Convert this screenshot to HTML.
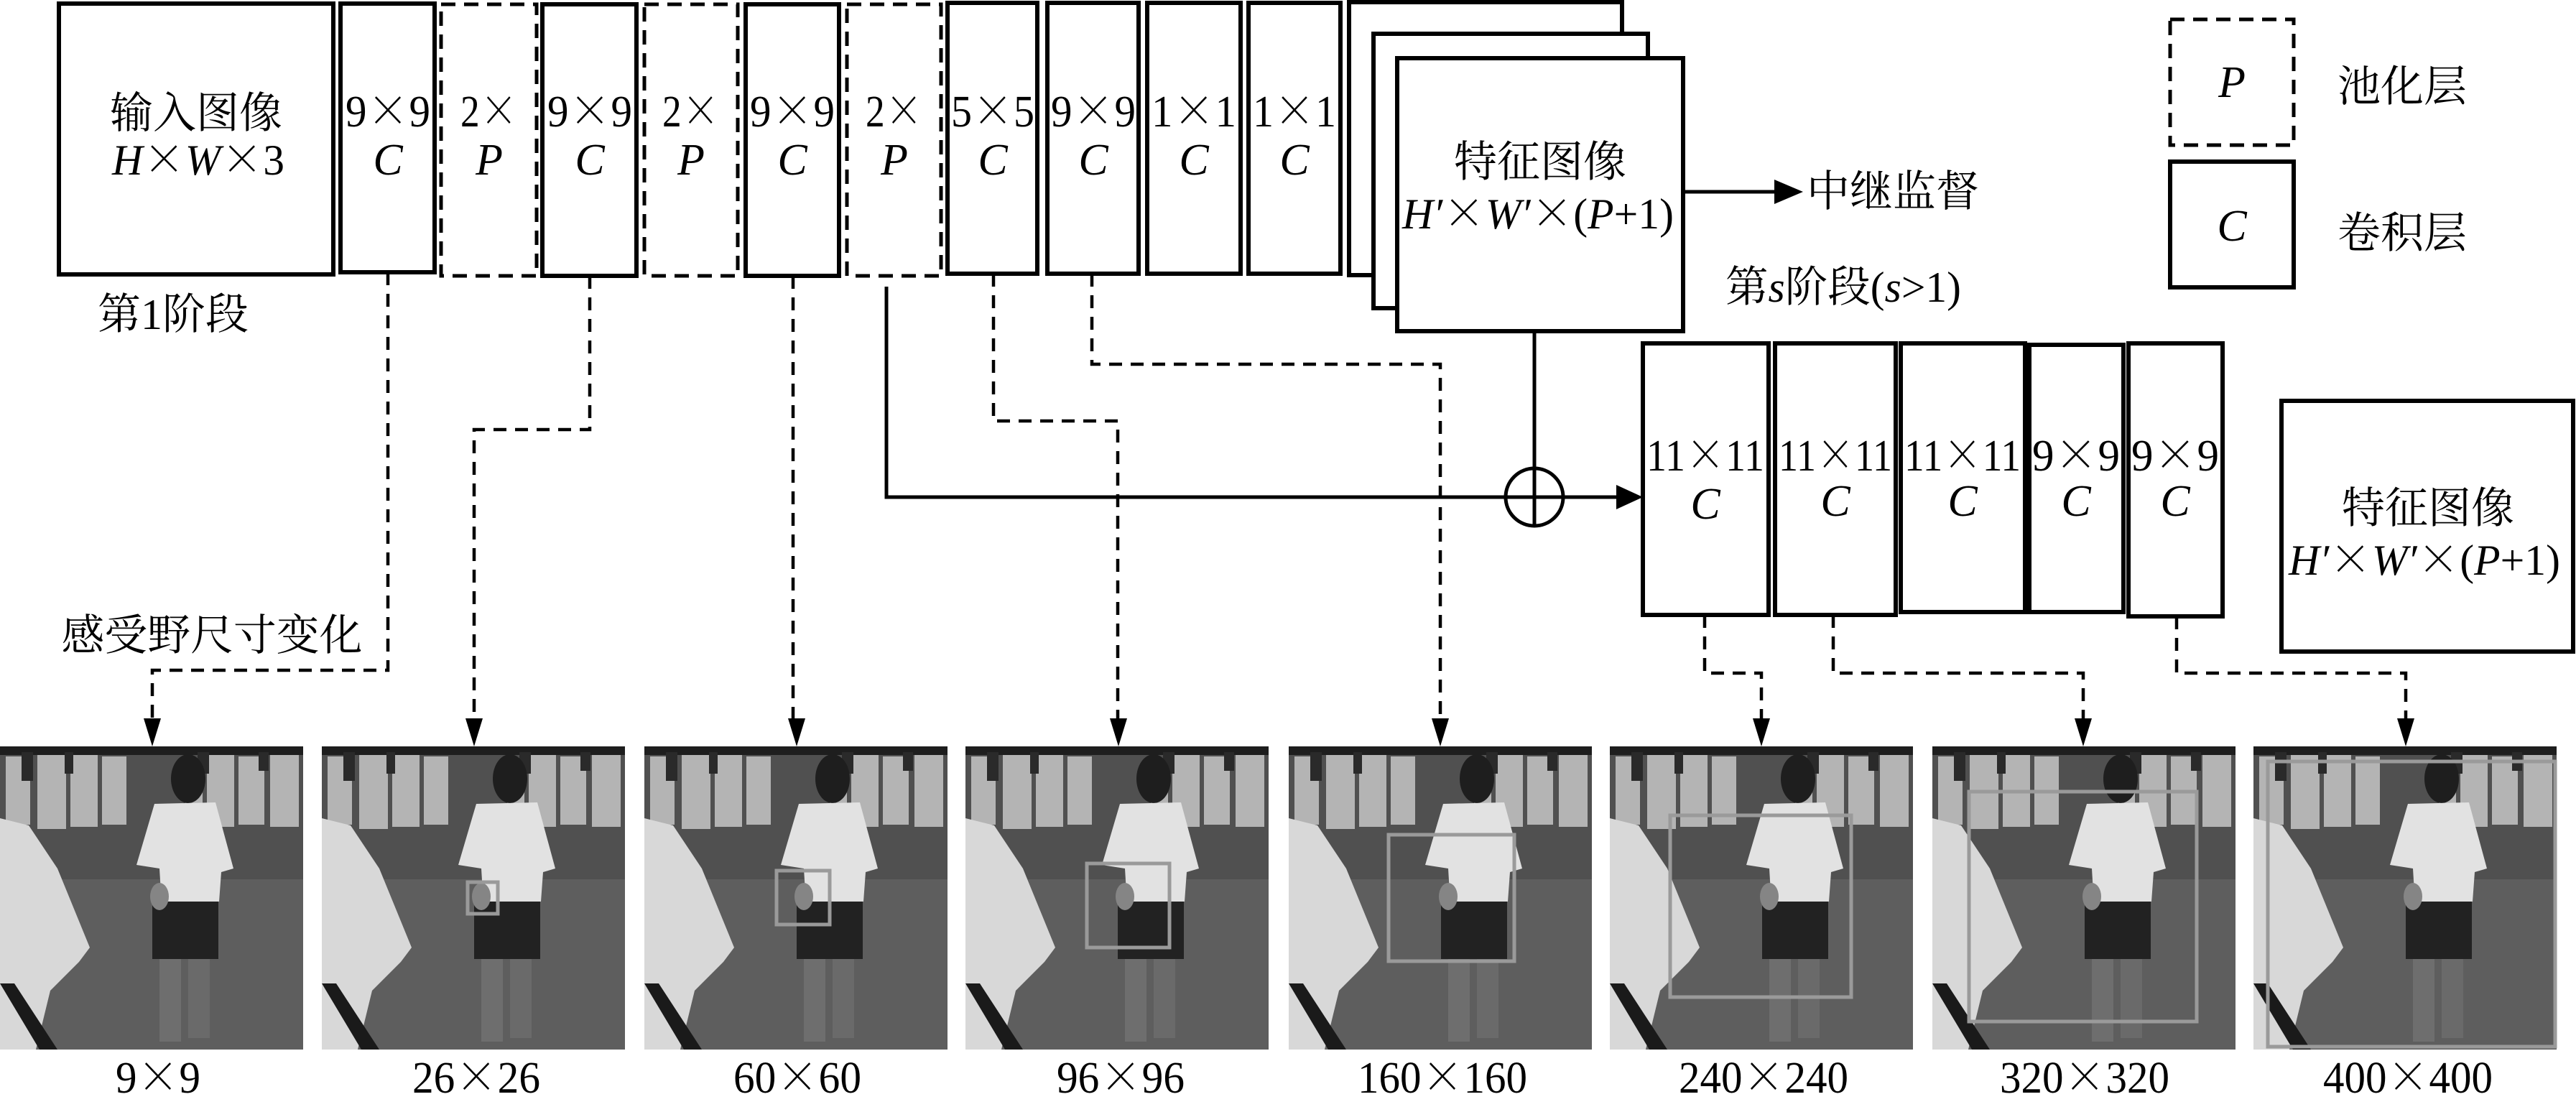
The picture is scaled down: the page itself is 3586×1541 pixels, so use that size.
<!DOCTYPE html>
<html><head><meta charset="utf-8"><style>
html,body{margin:0;padding:0;background:#fff;}
svg{display:block;}
text{font-family:"Liberation Serif","Noto Serif CJK SC","Noto Sans CJK SC",serif;fill:#000;}
.it{font-style:italic;}
.x{font-family:"Noto Serif CJK SC","Noto Sans CJK SC",serif;font-style:normal;}
</style></head><body>
<svg width="3586" height="1541" viewBox="0 0 3586 1541" xmlns="http://www.w3.org/2000/svg">
<defs>
<symbol id="ph" viewBox="0 0 422 422">
<rect x="0" y="0" width="422" height="422" fill="#5e5e5e"/>
<rect x="0" y="0" width="422" height="185" fill="#505050"/>
<g fill="#b4b4b4">
<rect x="8" y="14" width="34" height="95"/><rect x="52" y="10" width="40" height="105"/>
<rect x="98" y="12" width="38" height="100"/><rect x="142" y="14" width="34" height="95"/>
<rect x="288" y="12" width="38" height="100"/><rect x="332" y="14" width="36" height="95"/>
<rect x="376" y="12" width="40" height="100"/><rect x="258" y="20" width="24" height="85"/>
</g>
<rect x="0" y="0" width="422" height="12" fill="#1e1e1e"/>
<g fill="#2a2a2a"><rect x="30" y="8" width="16" height="40"/><rect x="90" y="8" width="12" height="30"/><rect x="275" y="8" width="16" height="30"/><rect x="360" y="8" width="14" height="26"/></g>
<path d="M0,100 L40,110 L80,170 L125,280 L110,300 L70,340 L50,422 L0,422 Z" fill="#d8d8d8"/>
<path d="M0,330 L20,330 L80,422 L55,422 Z" fill="#1a1a1a"/>
<ellipse cx="262" cy="45" rx="24" ry="34" fill="#1e1e1e"/>
<path d="M215,80 L300,78 L325,170 L308,175 L305,216 L225,220 L222,170 L190,165 Z" fill="#e2e2e2"/>
<rect x="212" y="216" width="92" height="80" fill="#222"/>
<rect x="222" y="296" width="30" height="115" fill="#6e6e6e"/><rect x="262" y="296" width="30" height="110" fill="#6a6a6a"/>
<ellipse cx="222" cy="209" rx="13" ry="19" fill="#858585"/>
</symbol>
</defs>

<g fill="none" stroke="#000" stroke-width="6">
<rect x="82" y="5" width="382" height="377"/>
<rect x="474" y="5" width="131" height="374"/>
<rect x="755" y="6" width="131" height="378"/>
<rect x="1038" y="6" width="130" height="378"/>
<rect x="1319" y="4" width="125" height="377"/>
<rect x="1458" y="4" width="127" height="377"/>
<rect x="1597" y="4" width="130" height="377"/>
<rect x="1738" y="4" width="128" height="377"/>
<rect x="1878" y="3" width="380" height="380" fill="#fff"/>
<rect x="1912" y="47" width="382" height="382" fill="#fff"/>
<rect x="1945" y="81" width="398" height="380" fill="#fff"/>
<rect x="2287" y="478" width="175" height="378"/>
<rect x="2471" y="478" width="168" height="378"/>
<rect x="2646" y="478" width="173" height="374"/>
<rect x="2825" y="480" width="131" height="372"/>
<rect x="2963" y="478" width="131" height="380"/>
<rect x="3176" y="558" width="406" height="349"/>
<rect x="3021" y="225" width="172" height="175"/>
</g>
<g fill="none" stroke="#000" stroke-width="5" stroke-dasharray="20,12">
<rect x="614" y="6" width="133" height="378"/>
<rect x="897" y="6" width="130" height="378"/>
<rect x="1179" y="6" width="131" height="378"/>
<rect x="3021" y="27" width="172" height="175"/>
</g>

<g font-size="60" text-anchor="middle">
<text x="273" y="178">输入图像</text>
<text x="276" y="243" class="it" textLength="240" lengthAdjust="spacingAndGlyphs">H<tspan class="x">×</tspan>W<tspan class="x">×</tspan><tspan font-style="normal">3</tspan></text>
<text x="241" y="458">第1阶段</text>
<text x="295" y="905" textLength="419" lengthAdjust="spacingAndGlyphs">感受野尺寸变化</text>
<text x="2144" y="246">特征图像</text>
<text x="2141" y="318" textLength="378" lengthAdjust="spacingAndGlyphs"><tspan class="it">H′</tspan><tspan class="x">×</tspan><tspan class="it">W′</tspan><tspan class="x">×</tspan>(<tspan class="it">P</tspan>+1)</text>
<text x="2635" y="287">中继监督</text>
<text x="3344" y="141">池化层</text>
<text x="3344" y="345">卷积层</text>
<text x="2566" y="420" textLength="328" lengthAdjust="spacingAndGlyphs">第<tspan class="it">s</tspan>阶段(<tspan class="it">s</tspan>&gt;1)</text>
<text x="3380" y="728">特征图像</text>
<text x="3375" y="800" textLength="378" lengthAdjust="spacingAndGlyphs"><tspan class="it">H′</tspan><tspan class="x">×</tspan><tspan class="it">W′</tspan><tspan class="x">×</tspan>(<tspan class="it">P</tspan>+1)</text>
</g>
<g font-size="62" text-anchor="middle">
<text x="3107" y="135" class="it">P</text>
<text x="3107" y="335" class="it">C</text>
<text x="540" y="176" textLength="118" lengthAdjust="spacingAndGlyphs">9<tspan class="x">×</tspan>9</text><text x="540" y="243" class="it">C</text>
<text x="681" y="176" textLength="80" lengthAdjust="spacingAndGlyphs">2<tspan class="x">×</tspan></text><text x="681" y="243" class="it">P</text>
<text x="821" y="176" textLength="118" lengthAdjust="spacingAndGlyphs">9<tspan class="x">×</tspan>9</text><text x="821" y="243" class="it">C</text>
<text x="962" y="176" textLength="80" lengthAdjust="spacingAndGlyphs">2<tspan class="x">×</tspan></text><text x="962" y="243" class="it">P</text>
<text x="1103" y="176" textLength="118" lengthAdjust="spacingAndGlyphs">9<tspan class="x">×</tspan>9</text><text x="1103" y="243" class="it">C</text>
<text x="1245" y="176" textLength="80" lengthAdjust="spacingAndGlyphs">2<tspan class="x">×</tspan></text><text x="1245" y="243" class="it">P</text>
<text x="1382" y="176" textLength="116" lengthAdjust="spacingAndGlyphs">5<tspan class="x">×</tspan>5</text><text x="1382" y="243" class="it">C</text>
<text x="1522" y="176" textLength="118" lengthAdjust="spacingAndGlyphs">9<tspan class="x">×</tspan>9</text><text x="1522" y="243" class="it">C</text>
<text x="1662" y="176" textLength="118" lengthAdjust="spacingAndGlyphs">1<tspan class="x">×</tspan>1</text><text x="1662" y="243" class="it">C</text>
<text x="1802" y="176" textLength="116" lengthAdjust="spacingAndGlyphs">1<tspan class="x">×</tspan>1</text><text x="1802" y="243" class="it">C</text>
<text x="2374" y="655" textLength="164" lengthAdjust="spacingAndGlyphs">11<tspan class="x">×</tspan>11</text><text x="2374" y="722" class="it">C</text>
<text x="2555" y="655" textLength="158" lengthAdjust="spacingAndGlyphs">11<tspan class="x">×</tspan>11</text><text x="2555" y="718" class="it">C</text>
<text x="2732" y="655" textLength="162" lengthAdjust="spacingAndGlyphs">11<tspan class="x">×</tspan>11</text><text x="2732" y="718" class="it">C</text>
<text x="2890" y="655" textLength="122" lengthAdjust="spacingAndGlyphs">9<tspan class="x">×</tspan>9</text><text x="2890" y="718" class="it">C</text>
<text x="3028" y="655" textLength="122" lengthAdjust="spacingAndGlyphs">9<tspan class="x">×</tspan>9</text><text x="3028" y="718" class="it">C</text>
</g>

<g fill="none" stroke="#000" stroke-width="5">
<path d="M2343,267 L2470,267"/>
<path d="M2136,461 L2136,732"/>
<path d="M1234,399 L1234,692 L2250,692"/>
<circle cx="2136" cy="692" r="40"/>
</g>
<polygon points="2470,250 2510,267 2470,284" fill="#000"/>
<polygon points="2250,675 2287,692 2250,709" fill="#000"/>

<g fill="none" stroke="#000" stroke-width="4.5" stroke-dasharray="18,12">
<path d="M540,379 L540,933 L212,933 L212,1005"/>
<path d="M821,384 L821,598 L660,598 L660,1005"/>
<path d="M1104,384 L1104,1005"/>
<path d="M1383,381 L1383,586 L1556,586 L1556,1005"/>
<path d="M1520,381 L1520,507 L2005,507 L2005,1005"/>
<path d="M2373,856 L2373,937 L2452,937 L2452,1005"/>
<path d="M2552,856 L2552,937 L2900,937 L2900,1005"/>
<path d="M3030,858 L3030,937 L3349,937 L3349,1005"/>
</g>
<g fill="#000">
<polygon points="200,1000 224,1000 212,1039"/>
<polygon points="648,1000 672,1000 660,1039"/>
<polygon points="1097,1000 1121,1000 1109,1039"/>
<polygon points="1545,1000 1569,1000 1557,1039"/>
<polygon points="1993,1000 2017,1000 2005,1039"/>
<polygon points="2440,1000 2464,1000 2452,1039"/>
<polygon points="2888,1000 2912,1000 2900,1039"/>
<polygon points="3337,1000 3361,1000 3349,1039"/>
</g>

<g>
<use href="#ph" x="0" y="1039" width="422" height="422"/>
<use href="#ph" x="448" y="1039" width="422" height="422"/>
<use href="#ph" x="897" y="1039" width="422" height="422"/>
<use href="#ph" x="1344" y="1039" width="422" height="422"/>
<use href="#ph" x="1794" y="1039" width="422" height="422"/>
<use href="#ph" x="2241" y="1039" width="422" height="422"/>
<use href="#ph" x="2690" y="1039" width="422" height="422"/>
<use href="#ph" x="3137" y="1039" width="422" height="422"/>
</g>
<g fill="none" stroke="#9a9a9a" stroke-width="5">
<rect x="651" y="1228" width="42" height="44"/>
<rect x="1081" y="1212" width="74" height="75"/>
<rect x="1513" y="1202" width="115" height="117"/>
<rect x="1933" y="1162" width="175" height="176"/>
<rect x="2325" y="1135" width="252" height="253"/>
<rect x="2741" y="1102" width="317" height="320"/>
<rect x="3157" y="1060" width="400" height="397"/>
</g>

<g font-size="62" text-anchor="middle">
<text x="220" y="1521" textLength="118" lengthAdjust="spacingAndGlyphs">9<tspan class="x">×</tspan>9</text>
<text x="663" y="1521" textLength="178" lengthAdjust="spacingAndGlyphs">26<tspan class="x">×</tspan>26</text>
<text x="1110" y="1521" textLength="178" lengthAdjust="spacingAndGlyphs">60<tspan class="x">×</tspan>60</text>
<text x="1560" y="1521" textLength="178" lengthAdjust="spacingAndGlyphs">96<tspan class="x">×</tspan>96</text>
<text x="2008" y="1521" textLength="236" lengthAdjust="spacingAndGlyphs">160<tspan class="x">×</tspan>160</text>
<text x="2455" y="1521" textLength="236" lengthAdjust="spacingAndGlyphs">240<tspan class="x">×</tspan>240</text>
<text x="2902" y="1521" textLength="236" lengthAdjust="spacingAndGlyphs">320<tspan class="x">×</tspan>320</text>
<text x="3352" y="1521" textLength="236" lengthAdjust="spacingAndGlyphs">400<tspan class="x">×</tspan>400</text>
</g>
</svg>
</body></html>
